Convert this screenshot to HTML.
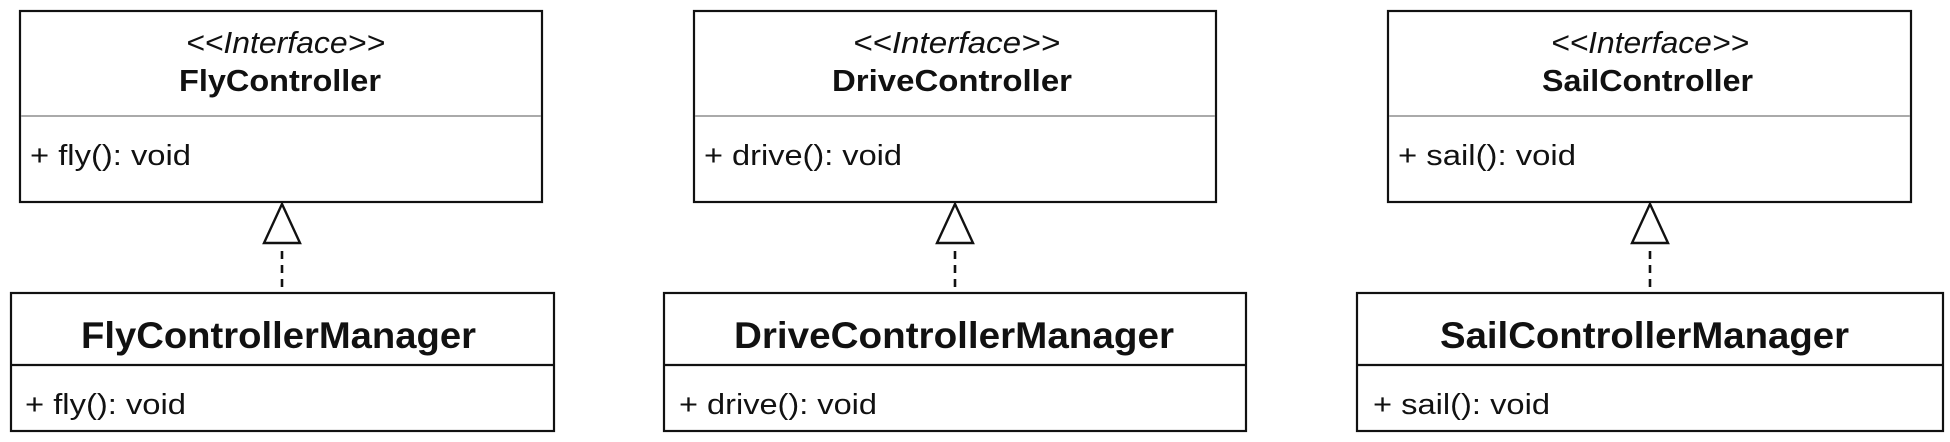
<!DOCTYPE html>
<html><head><meta charset="utf-8"><style>html,body{margin:0;padding:0;background:#fff}svg{display:block}</style></head><body>
<svg width="1950" height="442" viewBox="0 0 1950 442" xmlns="http://www.w3.org/2000/svg" font-family="'Liberation Sans', sans-serif">
<g fill="#fff" stroke="#111" stroke-width="2.2">
<rect x="20" y="11" width="522" height="191"/>
<rect x="11" y="293" width="543" height="138"/>
<rect x="694" y="11" width="522" height="191"/>
<rect x="664" y="293" width="582" height="138"/>
<rect x="1388" y="11" width="523" height="191"/>
<rect x="1357" y="293" width="586" height="138"/>
</g>
<g stroke="#aaa" stroke-width="2">
<line x1="21" y1="116" x2="541" y2="116"/>
<line x1="695" y1="116" x2="1215" y2="116"/>
<line x1="1389" y1="116" x2="1910" y2="116"/>
</g>
<g stroke="#111" stroke-width="2.2">
<line x1="11" y1="365" x2="554" y2="365"/>
<line x1="664" y1="365" x2="1246" y2="365"/>
<line x1="1357" y1="365" x2="1943" y2="365"/>
</g>
<g stroke="#111" stroke-width="2.4" fill="#fff">
<polygon points="282,204 264,243 300,243"/>
<polygon points="955,204 937,243 973,243"/>
<polygon points="1650,204 1632,243 1668,243"/>
</g>
<g stroke="#111" stroke-width="2.6" stroke-dasharray="8,6">
<line x1="282" y1="251" x2="282" y2="293"/>
<line x1="955" y1="251" x2="955" y2="293"/>
<line x1="1650" y1="251" x2="1650" y2="293"/>
</g>
<g fill="#111" font-size="31" font-style="italic">
<text x="186" y="53" textLength="199" lengthAdjust="spacingAndGlyphs">&lt;&lt;Interface&gt;&gt;</text>
<text x="853" y="53" textLength="207" lengthAdjust="spacingAndGlyphs">&lt;&lt;Interface&gt;&gt;</text>
<text x="1551" y="53" textLength="198" lengthAdjust="spacingAndGlyphs">&lt;&lt;Interface&gt;&gt;</text>
</g>
<g fill="#111" font-size="31" font-weight="bold">
<text x="179" y="91" textLength="202" lengthAdjust="spacingAndGlyphs">FlyController</text>
<text x="832" y="91" textLength="240" lengthAdjust="spacingAndGlyphs">DriveController</text>
<text x="1542" y="91" textLength="211" lengthAdjust="spacingAndGlyphs">SailController</text>
</g>
<g fill="#111" font-size="37" font-weight="bold">
<text x="81" y="348" textLength="395" lengthAdjust="spacingAndGlyphs">FlyControllerManager</text>
<text x="734" y="348" textLength="440" lengthAdjust="spacingAndGlyphs">DriveControllerManager</text>
<text x="1440" y="348" textLength="409" lengthAdjust="spacingAndGlyphs">SailControllerManager</text>
</g>
<g fill="#111" font-size="29">
<text x="30" y="165" textLength="161" lengthAdjust="spacingAndGlyphs">+ fly(): void</text>
<text x="704" y="165" textLength="198" lengthAdjust="spacingAndGlyphs">+ drive(): void</text>
<text x="1398" y="165" textLength="178" lengthAdjust="spacingAndGlyphs">+ sail(): void</text>
<text x="25" y="414" textLength="161" lengthAdjust="spacingAndGlyphs">+ fly(): void</text>
<text x="679" y="414" textLength="198" lengthAdjust="spacingAndGlyphs">+ drive(): void</text>
<text x="1373" y="414" textLength="177" lengthAdjust="spacingAndGlyphs">+ sail(): void</text>
</g>
</svg>
</body></html>
